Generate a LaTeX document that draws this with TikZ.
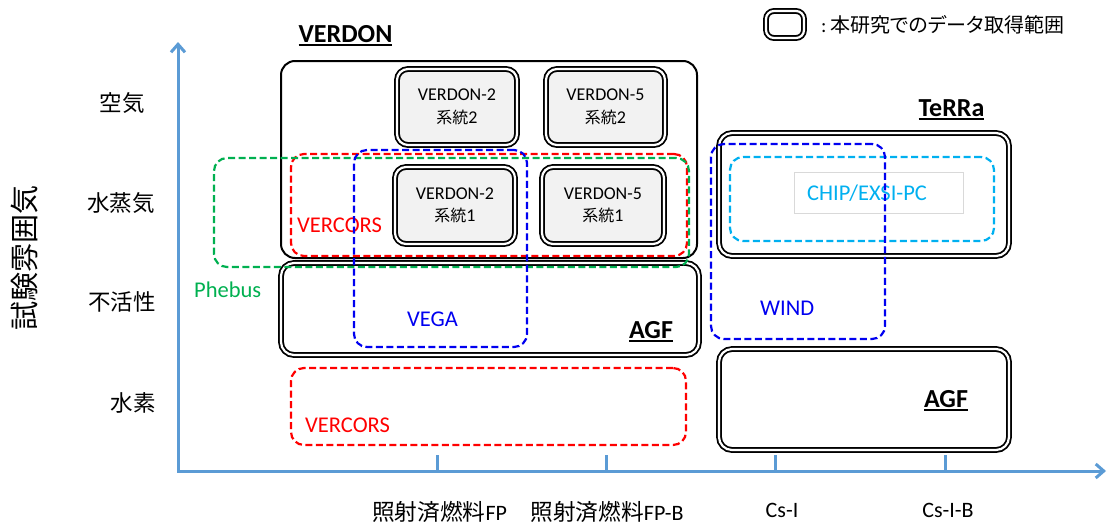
\documentclass[tikz,border=0pt]{standalone}
\usepackage{fontspec}
\setmainfont{Carlito}
\newfontfamily\jp{Noto Sans CJK JP}
\newfontfamily\jpp[RawFeature=+palt]{Noto Sans CJK JP}
\usetikzlibrary{arrows.meta}
\definecolor{axisblue}{HTML}{5B9BD5}
\definecolor{pgreen}{HTML}{00B050}
\definecolor{pcyan}{HTML}{00B0F0}
\definecolor{pblue}{HTML}{0000F0}
\definecolor{boxgray}{HTML}{F2F2F2}
% bold title with a heavy underline
\newcommand\undertitle[1]{\setbox0\hbox{\bfseries #1}\rlap{\copy0}\vrule width\wd0 height -2pt depth 3.8pt}
\tikzset{
  axis/.style={draw=axisblue, line width=3pt},
  sbox/.style={draw=black, line width=2pt, rounded corners=14pt, inner sep=0pt},
  dbox/.style={draw=black, double=white, line width=1.8pt, double distance=2.2pt,
               rounded corners=13pt, inner sep=0pt},
  graybox/.style={dbox, fill=boxgray, rounded corners=11pt, align=center,
                  font=\fontsize{18}{22.5}\selectfont},
  dashbox/.style={line width=2.2pt, dash pattern=on 7pt off 3.5pt,
                  rounded corners=13pt, inner sep=0pt},
  redbox/.style={dashbox, draw=red},
  greenbox/.style={dashbox, draw=pgreen},
  bluebox/.style={dashbox, draw=pblue},
  cyanbox/.style={dashbox, draw=pcyan},
  txt/.style={inner sep=0pt, font=\fontsize{22.5}{27}\selectfont},
  title/.style={inner sep=0pt, anchor=base, font=\fontsize{26}{31}\selectfont},
  ylab/.style={inner sep=0pt, font=\jp\fontsize{22.5}{27}\selectfont},
  xlab/.style={inner sep=0pt, anchor=base, font=\fontsize{22}{27}\selectfont},
}
\newcommand\kj[1]{{\jp\fontsize{16}{22.5}\selectfont #1}}
\begin{document}
\begin{tikzpicture}[x=1pt, y=-1pt]
\useasboundingbox (0,0) rectangle (1108,525);

% axes
\coordinate (ytip) at (178,42);
\coordinate (O) at (178,471);
\coordinate (xtip) at (1106,471);
\draw[axis, {Straight Barb[length=8pt,width=14pt]}-{Straight Barb[length=8pt,width=14pt]}]
  (ytip) -- (O) -- (xtip);
\foreach \i/\x in {1/437, 2/606, 3/775, 4/945}{
  \coordinate (tb\i) at (\x,471);
  \coordinate (tt\i) at (\x,455);
  \draw[axis] (tb\i) -- (tt\i);
}

% axis labels
\node[ylab] (yair) at (122,103) {空気};
\node[ylab] (ysteam) at (121,203) {水蒸気};
\node[ylab] (yinert) at (122,302) {不活性};
\node[ylab] (yhyd) at (133,403) {水素};
\node[inner sep=0pt, rotate=90, font=\jp\fontsize{29}{34}\selectfont] (ytitle) at (25,258) {試験雰囲気};

\node[xlab] (xfp) at (439.5,520) {{\jp\fontsize{22.7}{27}\selectfont 照射済燃料}FP};
\node[xlab] (xfpb) at (607,520) {{\jp\fontsize{22.7}{27}\selectfont 照射済燃料}FP-B};
\node[xlab] (xcsi) at (782,517) {Cs-I};
\node[xlab] (xcsib) at (948,517) {Cs-I-B};

% legend
\node[dbox, rounded corners=8pt, minimum width=38pt, minimum height=27pt] (legbox) at (785,24.5) {};
\node[inner sep=0pt, anchor=base west, font=\fontsize{20}{24}\selectfont] (legtext) at (821,32)
  {:\kern4pt{\jpp 本研究でのデータ取得範囲}};

% VERDON
\node[title] (verdontitle) at (345.5,42) {\undertitle{VERDON}};
\node[sbox, minimum width=416pt, minimum height=197pt] (verdon) at (489,159.5) {};

% AGF and TeRRa facilities
\node[dbox, minimum width=418pt, minimum height=92pt] (agf1) at (490,309) {};
\node[title] (agf1title) at (651,338) {\undertitle{AGF}};
\node[title] (terratitle) at (951.5,116) {\undertitle{TeRRa}};
\node[dbox, minimum width=290pt, minimum height=123pt] (terra) at (864,194.5) {};
\node[dbox, minimum width=290pt, minimum height=101pt] (agf2) at (864,399.5) {};
\node[title] (agf2title) at (946,407) {\undertitle{AGF}};

% VERDON lines
\node[graybox, minimum width=120pt, minimum height=76pt] (v2l2) at (457,107) {VERDON-2\\\kj{系統}2};
\node[graybox, minimum width=119pt, minimum height=76pt] (v5l2) at (605.5,107) {VERDON-5\\\kj{系統}2};
\node[graybox, minimum width=120pt, minimum height=77pt] (v2l1) at (455,205.5) {VERDON-2\\\kj{系統}1};
\node[graybox, minimum width=122pt, minimum height=77pt] (v5l1) at (603,205.5) {VERDON-5\\\kj{系統}1};

% other programmes
\node[redbox, minimum width=396pt, minimum height=102pt] (vercors1) at (489,205) {};
\node[txt, anchor=base west, text=red] (vercors1lab) at (297,232) {VERCORS};
\node[greenbox, minimum width=475pt, minimum height=109pt] (phebus) at (451.5,212.5) {};
\node[txt, anchor=base west, text=pgreen] (phebuslab) at (194,297) {Phebus};
\node[bluebox, minimum width=173pt, minimum height=197pt] (vega) at (440.5,248.5) {};
\node[txt, anchor=base west, text=pblue] (vegalab) at (407,326) {VEGA};
\node[redbox, minimum width=395pt, minimum height=77pt] (vercors2) at (488.5,406.5) {};
\node[txt, anchor=base west, text=red] (vercors2lab) at (305,432) {VERCORS};

\node[cyanbox, minimum width=264pt, minimum height=84pt] (chip) at (862,199) {};
\node[draw=black!15, fill=white, line width=0.8pt, inner sep=0pt,
      minimum width=169pt, minimum height=41pt] (chipframe) at (878.5,192.5) {};
\node[txt, anchor=base west, text=pcyan] (chiplab) at (807,200) {CHIP/EXSI-PC};
\node[bluebox, minimum width=174pt, minimum height=195pt] (wind) at (798,241.5) {};
\node[txt, anchor=base west, text=pblue] (windlab) at (760,315) {WIND};
\end{tikzpicture}
\end{document}
